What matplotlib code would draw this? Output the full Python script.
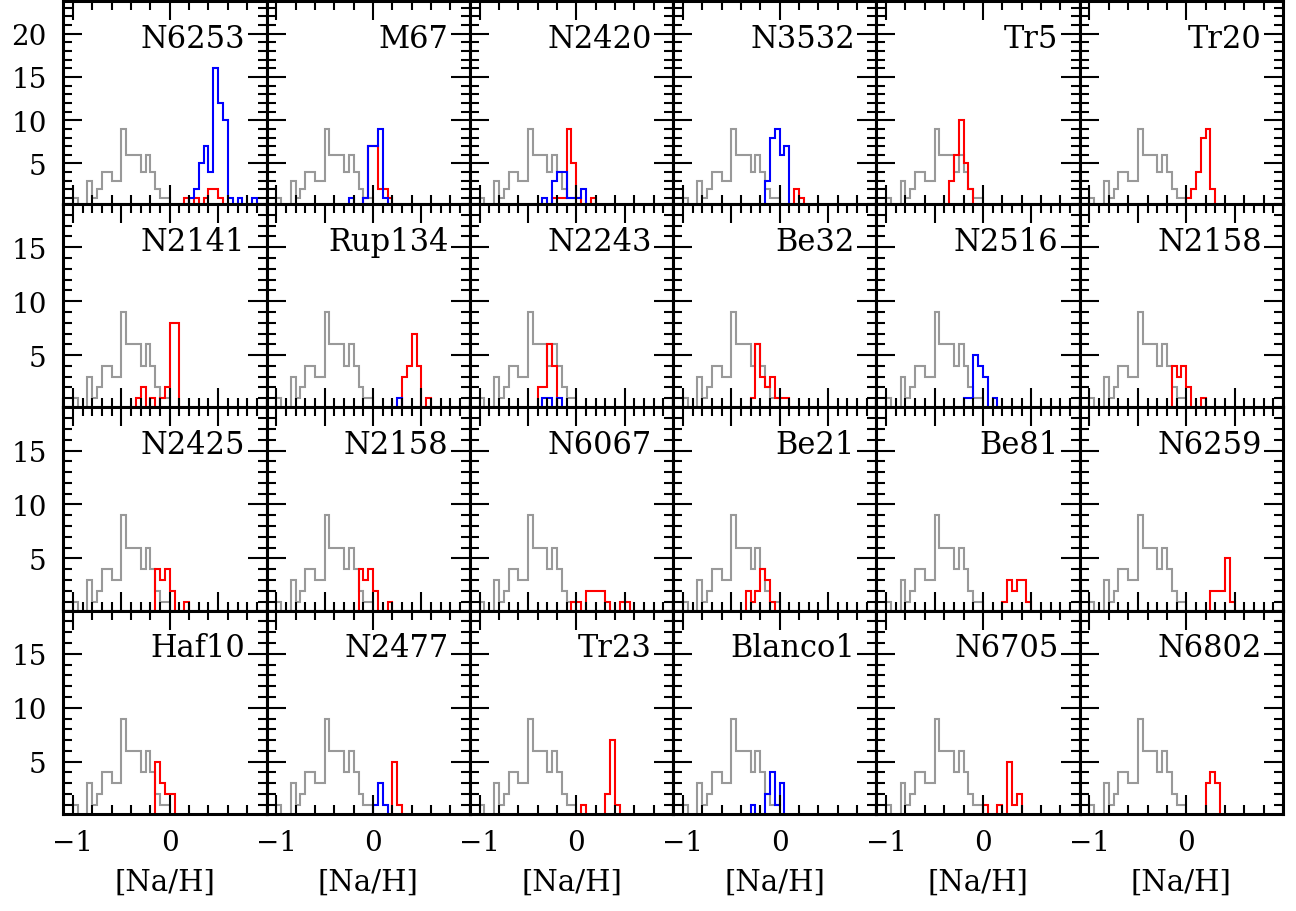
import numpy as np
import matplotlib.pyplot as plt
from matplotlib.ticker import MultipleLocator, FixedLocator

plt.rcParams['font.family'] = ['DejaVu Serif']

#### data: histograms of [Na/H], bin width 0.05, (first bin start, counts)
bin_w = 0.05

ref_start = -1.0
ref_counts = [1, 0, 0, 3, 1, 2, 4, 4, 3, 3, 9, 6, 6, 6, 4, 6, 4, 2, 1, 1]

names = ['N6253', 'M67', 'N2420', 'N3532', 'Tr5', 'Tr20',
         'N2141', 'Rup134', 'N2243', 'Be32', 'N2516', 'N2158',
         'N2425', 'N2158', 'N6067', 'Be21', 'Be81', 'N6259',
         'Haf10', 'N2477', 'Tr23', 'Blanco1', 'N6705', 'N6802']

red_start = [0.15, -0.10, -0.25, 0.15, -0.35, 0.0,
             -0.35, 0.30, -0.40, -0.30, None, -0.15,
             -0.15, -0.15, -0.05, -0.35, 0.20, 0.25,
             -0.15, 0.20, 0.05, None, 0.0, 0.20]
red_counts = [[1, 0, 1, 0, 1, 2, 2, 1],
              [1, 7, 7, 2, 2, 1],
              [1, 1, 1, 9, 5, 1, 0, 0, 1],
              [2, 1],
              [3, 6, 10, 5, 2],
              [1, 2, 4, 8, 9, 2],
              [1, 2, 0, 1, 0, 1, 2, 8, 8],
              [3, 4, 7, 4, 0, 1],
              [2, 2, 6, 4],
              [1, 6, 3, 2, 3, 1, 1, 1],
              None,
              [4, 3, 4, 2, 0, 0, 1],
              [4, 3, 4, 2, 0, 0, 1],
              [4, 3, 4, 2, 0, 0, 1],
              [1, 1, 0, 2, 2, 2, 2, 1, 0, 0, 1, 1],
              [2, 1, 2, 4, 3, 1],
              [1, 3, 2, 3, 3, 1],
              [2, 2, 2, 5, 1],
              [5, 3, 2, 2],
              [5, 1],
              [1, 0, 0, 0, 0, 2, 7, 1],
              None,
              [1, 0, 0, 1, 0, 5, 1, 2],
              [3, 4, 3]]

blue_start = [0.20, -0.25, -0.35, -0.15, None, None,
              None, 0.25, -0.35, None, -0.20, None,
              None, None, None, None, None, None,
              None, 0.0, None, -0.30, None, None]
blue_counts = [[1, 2, 5, 7, 4, 16, 12, 10, 1, 0, 1, 0, 0, 1],
               [1, 0, 0, 1, 7, 7, 9, 1],
               [1, 0, 3, 4, 4, 1, 1, 1, 2],
               [3, 8, 9, 6, 7],
               None, None,
               None,
               [1],
               [1, 1, 0, 1],
               None,
               [1, 1, 5, 4, 3, 0, 1],
               None,
               None, None, None, None, None, None,
               None,
               [1, 3, 1],
               None,
               [1, 0, 0, 2, 4, 1, 3],
               None, None]


def draw_hist(ax, start, counts, color):
    edges = start + bin_w * np.arange(len(counts) + 1)
    ax.stairs(counts, edges, color=color, lw=1.5)


fig, axes = plt.subplots(4, 6, figsize=(12.96, 9.12), dpi=100)
fig.subplots_adjust(left=0.0488, right=0.990, top=0.998, bottom=0.1064,
                    wspace=0, hspace=0)

for k, ax in enumerate(axes.flat):
    row, col = divmod(k, 6)

    draw_hist(ax, ref_start, ref_counts, '0.6')
    if red_counts[k] is not None:
        draw_hist(ax, red_start[k], red_counts[k], 'red')
    if blue_counts[k] is not None:
        draw_hist(ax, blue_start[k], blue_counts[k], 'blue')

    ax.set_xlim(-1.1, 1.0)
    if row == 0:
        ax.set_ylim(0.3, 23.8)
    else:
        ax.set_ylim(0.15, 19.0)

    # tick spacing is not the same on every row in the original
    if row in (0, 3):
        ax.xaxis.set_major_locator(FixedLocator([-1, 0]))
        ax.xaxis.set_minor_locator(MultipleLocator(0.2))
    else:
        ax.xaxis.set_major_locator(FixedLocator([-1, -0.5, 0, 0.5]))
        ax.xaxis.set_minor_locator(MultipleLocator(0.1))
    ax.yaxis.set_major_locator(MultipleLocator(5))
    ax.yaxis.set_minor_locator(MultipleLocator(1))

    ax.tick_params(which='both', direction='in', top=True, right=True,
                   width=1.5, labelsize=20)
    ax.tick_params(which='major', length=14)
    ax.tick_params(which='minor', length=6.5)
    ax.tick_params(axis='y', pad=12, labelleft=(col == 0))
    ax.tick_params(axis='x', pad=11, labelbottom=(row == 3))
    for sp in ax.spines.values():
        sp.set_linewidth(2.2)

    ax.text(0.895, 0.775, names[k], transform=ax.transAxes,
            ha='right', va='baseline', fontsize=22)

    if row == 3:
        ax.set_xlabel('[Na/H]', fontsize=21, labelpad=8)

fig.savefig('out.png', dpi=100)
